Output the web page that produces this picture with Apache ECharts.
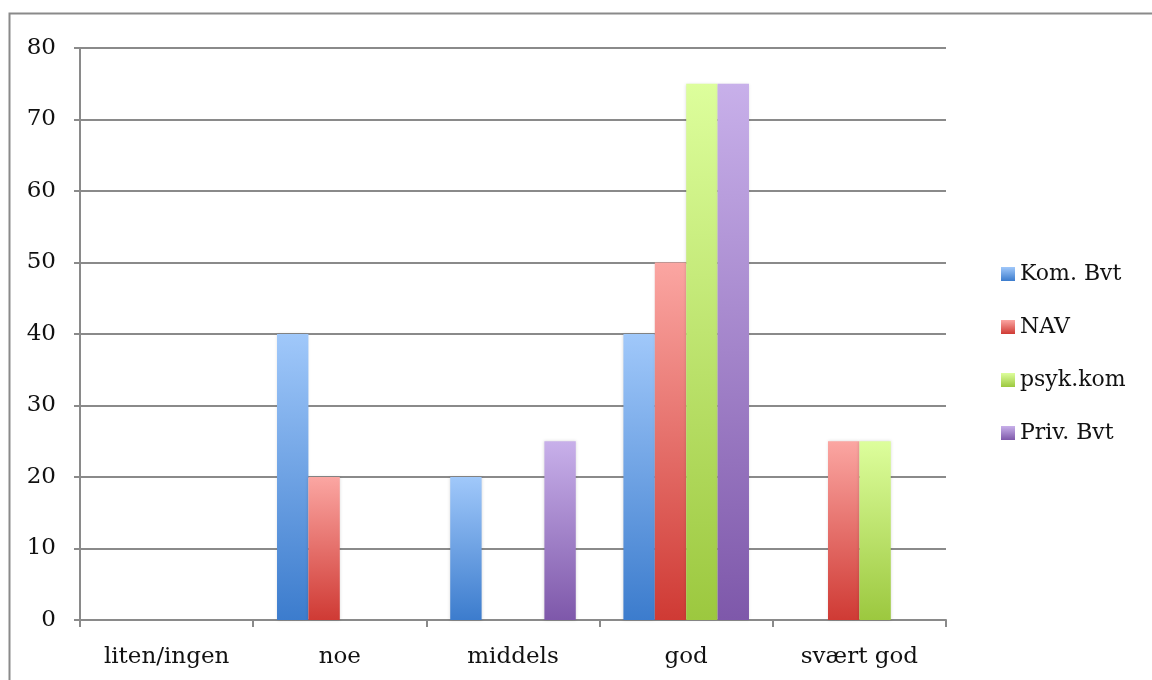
<!DOCTYPE html>
<html><head><meta charset="utf-8">
<script src="https://cdn.jsdelivr.net/npm/echarts@6/dist/echarts.min.js"></script>
<style>html,body{margin:0;padding:0;background:#fff}#c{width:1152px;height:680px}</style>
</head><body><div id="c"></div>
<script>
const categories = ['liten/ingen', 'noe', 'middels', 'god', 'svært god'];
const seriesNames = ['Kom. Bvt', 'NAV', 'psyk.kom', 'Priv. Bvt'];
const komBvt = [0, 40, 20, 40, 0];
const nav = [0, 20, 0, 50, 25];
const psykKom = [0, 0, 0, 75, 25];
const privBvt = [0, 0, 25, 75, 0];
const yTicks = [0, 10, 20, 30, 40, 50, 60, 70, 80];

const values = [komBvt, nav, psykKom, privBvt];
const grads = [
  ['#a0c8fa', '#3c7ccd'],
  ['#fba6a2', '#cf3a34'],
  ['#ddfe9c', '#9cc83f'],
  ['#c8b0ea', '#7e58aa']
];
const font = 'DejaVu Serif';
const chart = echarts.init(document.getElementById('c'));
chart.setOption({
  animation: false,
  graphic: [{type: 'rect', shape: {x: 9.5, y: 13.5, width: 1200, height: 700}, style: {fill: 'none', stroke: '#8a8a8a', lineWidth: 2}, silent: true}],
  grid: {left: 80, right: 206, top: 48, bottom: 60, containLabel: false},
  legend: {
    orient: 'vertical', left: 996, top: 258, itemGap: 31, itemWidth: 14, itemHeight: 14,
    icon: 'rect',
    textStyle: {fontFamily: font, fontSize: 22, color: '#111'},
    data: seriesNames.map((n, i) => ({name: n, itemStyle: {color: new echarts.graphic.LinearGradient(0, 0, 0, 1, [
      {offset: 0, color: grads[i][0]}, {offset: 1, color: grads[i][1]}])}}))
  },
  xAxis: {
    type: 'category', data: categories,
    axisLine: {lineStyle: {color: '#8a8a8a', width: 2}},
    axisTick: {show: true, length: 7, lineStyle: {color: '#8a8a8a', width: 2}},
    axisLabel: {fontFamily: font, fontSize: 23, color: '#111', margin: 26}
  },
  yAxis: {
    type: 'value', min: 0, max: 80, interval: 10,
    axisLine: {show: true, lineStyle: {color: '#8a8a8a', width: 2}},
    axisTick: {show: true, length: 6, lineStyle: {color: '#8a8a8a', width: 2}},
    splitLine: {lineStyle: {color: '#8a8a8a', width: 2}},
    axisLabel: {fontFamily: font, fontSize: 23, color: '#111', margin: 24,
      formatter: v => yTicks.includes(v) ? String(v) : ''}
  },
  series: seriesNames.map((n, i) => ({
    name: n, type: 'bar', data: values[i].map(v => v === 0 ? null : v),
    barGap: '0%', barCategoryGap: '27.5%',
    itemStyle: {
      color: new echarts.graphic.LinearGradient(0, 0, 0, 1, [
        {offset: 0, color: grads[i][0]}, {offset: 1, color: grads[i][1]}
      ]),
      shadowColor: 'rgba(0,0,0,0.15)', shadowBlur: 3
    }
  }))
});
</script></body></html>
